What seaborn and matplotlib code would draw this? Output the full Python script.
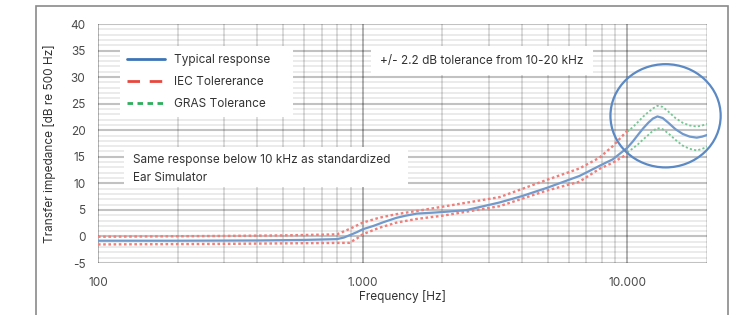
import numpy as np
import pandas as pd
import matplotlib
matplotlib.use("Agg")
import matplotlib.pyplot as plt
import seaborn as sns
from matplotlib.patches import Rectangle, Ellipse
from matplotlib.lines import Line2D
from matplotlib.ticker import FixedLocator, NullFormatter

# ---------------- data ----------------
typ_freq = [100, 200, 400, 600, 800, 850, 950, 1000, 1100, 1200, 1340, 1450,
            1600, 1800, 2000, 2460, 3290, 4000, 5000, 6600, 8300, 8800, 10000,
            10500, 11000, 11500, 12000, 12500, 13000, 13600, 14300, 15200,
            16200, 17200, 18300, 19200, 20000]
typ_db = [-0.8, -0.8, -0.75, -0.65, -0.5, -0.2, 0.8, 1.35, 2.0, 2.7, 3.5, 3.9,
          4.3, 4.45, 4.6, 4.95, 6.4, 7.6, 9.2, 11.4, 13.9, 14.5, 16.7,
          17.9, 19.2, 20.4, 21.4, 22.2, 22.6, 22.3, 21.4, 20.2,
          19.3, 18.8, 18.6, 18.8, 19.1]

iec_freq = [100, 300, 500, 800, 900, 1000, 1150, 1340, 1600, 2000, 3290, 4930,
            6590, 7830, 8810, 10000]
iec_upper = [-0.05, 0.1, 0.2, 0.4, 1.5, 2.6, 3.5, 4.2, 4.8, 5.6, 7.4, 10.6,
             12.8, 14.8, 17.0, 19.9]
iec_lower_freq = [100, 300, 500, 890, 950, 1000, 1150, 1340, 1600, 2000, 3290,
                  4930, 6590, 7830, 8810, 10000]
iec_lower = [-1.5, -1.4, -1.3, -1.2, -0.4, 0.4, 1.6, 2.6, 3.3, 3.9, 5.7,
             8.6, 10.3, 12.7, 13.9, 15.5]

gras_freq = [10000, 10500, 11000, 11500, 12000, 12500, 13000, 13600, 14300,
             15200, 16200, 17200, 18300, 19200, 20000]
gras_upper = [19.7, 20.6, 21.6, 22.6, 23.4, 24.1, 24.6, 24.4, 23.5,
              22.3, 21.4, 20.9, 20.7, 20.9, 21.2]
gras_lower = [15.8, 16.6, 17.4, 18.3, 19.1, 19.9, 20.4, 20.2, 19.4,
              18.2, 17.1, 16.5, 16.2, 16.5, 16.9]

x_ticks = [100, 1000, 10000]
x_tick_labels = ["100", "1.000", "10.000"]
y_ticks = [-5, 0, 5, 10, 15, 20, 25, 30, 35, 40]
y_tick_labels = ["-5", "0", "5", "10", "15", "20", "25", "30", "35", "40"]

legend_labels = ["Typical response", "IEC Tolererance", "GRAS Tolerance"]
note_right = "+/- 2.2 dB tolerance from 10-20 kHz"
note_left = "Same response below 10 kHz as standardized\nEar Simulator"
x_label = "Frequency [Hz]"
y_label = "Transfer impedance [dB re 500 Hz]"

# ---------------- style ----------------
sns.set_theme(style="white")
plt.rcParams["font.family"] = ["Inter", "DejaVu Sans"]
plt.rcParams["axes.unicode_minus"] = False

fig = plt.figure(figsize=(7.43, 3.15), dpi=100)
ax = fig.add_axes([0.1319, 0.165, 0.8196, 0.7588])

text_col = "#333333"
blue_c = "#7199cb"
red_c = "#ee7f7a"
green_c = "#74c793"

sns.lineplot(x=typ_freq, y=typ_db, ax=ax, color=blue_c, lw=1.6, zorder=5,
             estimator=None, sort=False)
sns.lineplot(x=iec_freq, y=iec_upper, ax=ax, color=red_c, lw=1.7, zorder=4,
             estimator=None, sort=False)
sns.lineplot(x=iec_lower_freq, y=iec_lower, ax=ax, color=red_c, lw=1.7, zorder=4,
             estimator=None, sort=False)
sns.lineplot(x=gras_freq, y=gras_upper, ax=ax, color=green_c, lw=1.3, zorder=4,
             estimator=None, sort=False)
sns.lineplot(x=gras_freq, y=gras_lower, ax=ax, color=green_c, lw=1.3, zorder=4,
             estimator=None, sort=False)
lines = ax.get_lines()
for ln in lines[1:3]:
    ln.set_dashes((1.1, 1.1))
for ln in lines[3:5]:
    ln.set_dashes((1.2, 1.2))
for ln in lines:
    ln.set_solid_capstyle("round")
    ln.set_solid_joinstyle("round")

ax.set_xscale("log")
ax.set_xlim(100, 20000)
ax.set_ylim(-5, 40)

ax.xaxis.set_major_locator(FixedLocator(x_ticks))
ax.set_xticklabels(x_tick_labels)
minor_x = [m * d for d in (100, 1000, 10000) for m in range(2, 10) if m * d <= 20000]
ax.xaxis.set_minor_locator(FixedLocator(minor_x))
ax.xaxis.set_minor_formatter(NullFormatter())
ax.yaxis.set_major_locator(FixedLocator(y_ticks))
ax.set_yticklabels(y_tick_labels)
ax.yaxis.set_minor_locator(FixedLocator(list(range(-5, 41))))

ax.xaxis.grid(True, which="major", color="black", alpha=0.30, lw=1.4, zorder=0)
ax.xaxis.grid(True, which="minor", color="black", alpha=0.16, lw=1.2, zorder=0)
ax.yaxis.grid(True, which="major", color="black", alpha=0.24, lw=1.5, zorder=0)
ax.yaxis.grid(True, which="minor", color="black", alpha=0.10, lw=1.1, zorder=0)
ax.set_axisbelow(True)
for s in ax.spines.values():
    s.set_visible(False)
ax.tick_params(axis="y", which="major", length=3, color="#bdbdbd", width=1.4,
               labelsize=8.5, labelcolor="#4a4a4a", pad=6)
ax.tick_params(axis="x", which="major", length=0, labelsize=8.5,
               labelcolor="#4a4a4a", pad=10)
ax.tick_params(which="minor", length=0)

ax.set_xlabel(x_label, fontsize=8.5, color=text_col, labelpad=1)
ax.set_ylabel(y_label, fontsize=8.5, color=text_col, labelpad=10)

# white annotation boxes
box_kw = dict(transform=ax.transAxes, facecolor="white", edgecolor="none", zorder=3)
ax.add_patch(Rectangle((0.036, 0.611), 0.284, 0.297, **box_kw))
ax.add_patch(Rectangle((0.448, 0.787), 0.365, 0.121, **box_kw))
ax.add_patch(Rectangle((0.0427, 0.318), 0.466, 0.167, **box_kw))

ax.text(0.463, 0.846, note_right, transform=ax.transAxes, fontsize=8.5,
        color=text_col, va="center", ha="left", zorder=6)
ax.text(0.0575, 0.394, note_left, transform=ax.transAxes, fontsize=8.5,
        color=text_col, va="center", ha="left", zorder=6, linespacing=1.6)

# legend
handles = [
    Line2D([], [], color="#3c74b8", lw=2.0),
    Line2D([], [], color="#e8473f", lw=2.0, dashes=(4.5, 3.5)),
    Line2D([], [], color="#2fae5c", lw=2.0, dashes=(2.0, 1.6)),
]
leg = ax.legend(handles, legend_labels, loc="upper left",
                bbox_to_anchor=(0.036, 0.905), frameon=False, fontsize=8.5,
                handlelength=3.2, handletextpad=0.8, labelspacing=0.85,
                borderaxespad=0.0, borderpad=0.6)
for t in leg.get_texts():
    t.set_color(text_col)
leg.set_zorder(7)

# circle highlighting 10-20 kHz region
ax.add_patch(Ellipse((0.932, 0.616), 0.181, 0.432, transform=ax.transAxes,
                     fill=False, edgecolor="#5b89c4", lw=1.6, zorder=6,
                     clip_on=False))

# outer frame
fig.patches.append(Rectangle((0.0485, -0.1), 0.931, 1.081,
                             transform=fig.transFigure, fill=False,
                             edgecolor="#8a8a8a", lw=1.2))

fig.savefig("out.png", dpi=100)
